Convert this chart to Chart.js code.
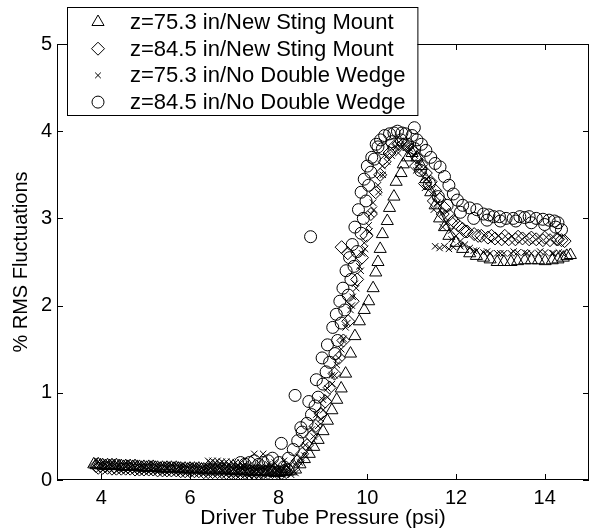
<!DOCTYPE html>
<html>
<head>
<meta charset="utf-8">
<script src="https://cdn.jsdelivr.net/npm/chart.js"></script>
<style>
  html, body { margin: 0; padding: 0; background: #fff; }
</style>
</head>
<body>
<canvas id="chart" width="612" height="531"></canvas>
<script>
// axis ticks
const xTicks = [4, 6, 8, 10, 12, 14];
const yTicks = [0, 1, 2, 3, 4, 5];

const seriesNames = [
  'z=75.3 in/New Sting Mount',
  'z=84.5 in/New Sting Mount',
  'z=75.3 in/No Double Wedge',
  'z=84.5 in/No Double Wedge'
];

// z=75.3 in / New Sting Mount (triangles)
const triX = [3.83, 3.93, 4.03, 4.14, 4.24, 4.34, 4.45, 4.55, 4.65, 4.76,
  4.86, 4.96, 5.07, 5.17, 5.27, 5.38, 5.48, 5.58, 5.69, 5.79,
  5.89, 6.0, 6.1, 6.2, 6.31, 6.41, 6.51, 6.62, 6.72, 6.82,
  6.93, 7.03, 7.14, 7.24, 7.34, 7.45, 7.55, 7.65, 7.76, 7.86,
  7.96, 8.07, 8.17,
  3.88, 3.98, 4.09, 4.19, 4.29, 4.4, 4.5, 4.6, 4.71, 4.81,
  4.91, 5.02, 5.12, 5.22, 5.33, 5.43, 5.53, 5.64, 5.74, 5.84,
  5.95, 6.05, 6.15, 6.26, 6.36, 6.46, 6.57, 6.67, 6.77, 6.88,
  6.98, 7.08, 7.19, 7.29, 7.39, 7.5, 7.6, 7.7, 7.81, 7.91,
  8.01, 8.12,
  8.27, 8.38, 8.48, 8.58, 8.69, 8.79, 8.89, 9.0, 9.1, 9.2,
  9.31, 9.41, 9.51, 9.62, 9.72, 9.82, 9.93, 10.03, 10.13,
  10.19, 10.24, 10.29, 10.34, 10.45, 10.5, 10.6, 10.65, 10.76, 10.81,
  10.91, 11.01, 11.12, 11.22,
  11.32, 11.43, 11.53, 11.63, 11.74, 11.84, 12.0, 12.15, 12.31, 12.46,
  12.62, 12.77, 12.93, 13.08, 13.24, 13.39, 13.55, 13.7, 13.86, 14.01,
  14.17, 14.3, 14.42, 14.5, 14.58];
const triY = [0.18, 0.18, 0.17, 0.17, 0.17, 0.17, 0.16, 0.16, 0.16, 0.16,
  0.15, 0.15, 0.15, 0.15, 0.14, 0.14, 0.14, 0.14, 0.14, 0.13,
  0.13, 0.13, 0.13, 0.13, 0.12, 0.12, 0.12, 0.12, 0.12, 0.12,
  0.11, 0.11, 0.11, 0.11, 0.10, 0.10, 0.10, 0.10, 0.10, 0.09,
  0.09, 0.10, 0.10,
  0.17, 0.17, 0.16, 0.16, 0.16, 0.16, 0.15, 0.15, 0.15, 0.15,
  0.14, 0.14, 0.14, 0.14, 0.13, 0.13, 0.13, 0.13, 0.13, 0.12,
  0.12, 0.12, 0.12, 0.12, 0.11, 0.11, 0.11, 0.11, 0.11, 0.11,
  0.10, 0.10, 0.10, 0.10, 0.09, 0.09, 0.09, 0.09, 0.09, 0.08,
  0.08, 0.09,
  0.10, 0.12, 0.18, 0.24, 0.30, 0.38, 0.46, 0.56, 0.68, 0.80,
  0.92, 1.05, 1.22, 1.45, 1.65, 1.82, 1.95, 2.05, 2.2,
  2.38, 2.5, 2.65, 2.82, 2.97, 3.12, 3.25, 3.42, 3.52, 3.62,
  3.7, 3.75, 3.7, 3.6,
  3.45, 3.3, 3.15, 3.0, 2.9, 2.8, 2.72, 2.65, 2.6, 2.57,
  2.55, 2.53, 2.5, 2.5, 2.5, 2.51, 2.52, 2.52, 2.52, 2.51,
  2.52, 2.53, 2.55, 2.57, 2.58];

// z=84.5 in / New Sting Mount (diamonds)
const diaX = [3.88, 3.98, 4.09, 4.19, 4.29, 4.4, 4.5, 4.6, 4.71, 4.81,
  4.91, 5.02, 5.12, 5.22, 5.33, 5.43, 5.53, 5.64, 5.74, 5.84,
  5.95, 6.05, 6.15, 6.26, 6.36, 6.46, 6.57, 6.67, 6.77, 6.88,
  6.98, 7.08, 7.19, 7.29, 7.39, 7.5, 7.6, 7.7, 7.81, 7.91,
  8.01, 8.12,
  3.93, 4.03, 4.14, 4.24, 4.34, 4.45, 4.55, 4.65, 4.76, 4.86,
  4.96, 5.07, 5.17, 5.27, 5.38, 5.48, 5.58, 5.69, 5.79, 5.89,
  6.0, 6.1, 6.2, 6.31, 6.41, 6.51, 6.62, 6.72, 6.82, 6.93,
  7.03, 7.14, 7.24, 7.34, 7.45, 7.55, 7.65, 7.76, 7.86, 7.96,
  8.07, 8.17,
  8.22, 8.33, 8.43, 8.53, 8.64, 8.74, 8.84, 8.95, 9.05, 9.15,
  9.26, 9.36, 9.46, 9.57, 9.67, 9.77, 9.88, 9.98, 10.08, 10.19,
  10.29, 10.39, 10.5, 10.6, 10.7, 10.81, 10.91,
  9.42, 9.56,
  11.01, 11.12, 11.22, 11.32, 11.43, 11.53, 11.63, 11.74, 11.84, 11.94,
  12.05, 12.15, 12.25, 12.41, 12.57, 12.72, 12.88, 13.03, 13.19, 13.34,
  13.5, 13.65, 13.81, 13.96, 14.12, 14.27, 14.38, 14.45,
  11.1, 11.3, 11.5, 11.7, 11.9, 12.2, 12.5, 12.8, 13.1, 13.4,
  13.7, 14.0, 14.3];
const diaY = [0.16, 0.16, 0.16, 0.16, 0.15, 0.15, 0.15, 0.15, 0.15, 0.14,
  0.14, 0.14, 0.14, 0.14, 0.13, 0.13, 0.13, 0.13, 0.13, 0.12,
  0.12, 0.12, 0.12, 0.12, 0.11, 0.11, 0.11, 0.11, 0.11, 0.10,
  0.10, 0.10, 0.10, 0.10, 0.09, 0.09, 0.09, 0.10, 0.11, 0.12,
  0.10, 0.11,
  0.14, 0.14, 0.14, 0.13, 0.13, 0.13, 0.13, 0.13, 0.12, 0.12,
  0.12, 0.12, 0.12, 0.11, 0.11, 0.11, 0.11, 0.11, 0.10, 0.10,
  0.10, 0.10, 0.10, 0.09, 0.09, 0.09, 0.09, 0.09, 0.08, 0.08,
  0.08, 0.08, 0.08, 0.07, 0.07, 0.07, 0.08, 0.08, 0.09, 0.09,
  0.08, 0.09,
  0.12, 0.16, 0.22, 0.3, 0.4, 0.5, 0.62, 0.76, 0.9, 1.06,
  1.22, 1.4, 1.6, 1.82, 2.05, 2.3, 2.55, 2.8, 3.05, 3.3,
  3.5, 3.65, 3.75, 3.82, 3.85, 3.85, 3.82,
  2.67, 2.6,
  3.78, 3.7, 3.62, 3.52, 3.42, 3.32, 3.22, 3.12, 3.04, 2.97,
  2.92, 2.88, 2.85, 2.82, 2.8, 2.78, 2.77, 2.76, 2.76, 2.76,
  2.77, 2.76, 2.76, 2.75, 2.75, 2.76, 2.75, 2.74,
  3.6, 3.4, 3.2, 3.05, 2.95, 2.85, 2.8, 2.8, 2.8, 2.79,
  2.78, 2.78, 2.76];

// z=75.3 in / No Double Wedge (crosses)
const crsX = [6.41, 6.51, 6.62, 6.72, 6.82, 6.93, 7.03, 7.14, 7.24, 7.34,
  7.45, 7.55, 7.65, 7.76, 7.86, 7.96, 8.07, 8.17, 8.28, 8.38,
  6.46, 6.57, 6.67, 6.77, 6.88, 6.98, 7.08, 7.19,
  7.29, 7.5, 7.7, 7.91, 8.12, 8.22,
  8.48, 8.58, 8.69, 8.79, 8.89, 8.95, 9.0, 9.1, 9.2, 9.26,
  9.31, 9.41, 9.46, 9.51, 9.62, 9.67, 9.72, 9.82, 9.88, 9.93,
  10.03, 10.08, 10.13, 10.24, 10.29, 10.34, 10.45, 10.55, 10.65, 10.76,
  10.86, 10.96, 11.07,
  11.17, 11.27, 11.38, 11.48, 11.58, 11.69, 11.79, 11.89, 12.0, 12.1,
  12.2, 12.31, 12.46, 12.62, 12.77, 12.93, 13.08, 13.24, 13.39, 13.55,
  13.7, 13.86, 14.01, 14.17, 14.32, 14.4,
  11.53, 11.63, 11.74, 11.84, 11.94,
  8.6, 8.75, 8.85, 9.0, 9.1, 9.2, 9.35, 9.45, 9.55, 9.65,
  9.75, 9.85, 9.95, 10.05, 10.15, 10.25, 10.35, 10.45, 10.55, 10.7,
  11.1, 11.3, 11.5, 11.7, 11.9, 12.1, 12.4, 12.7, 13.0, 13.3,
  13.6, 13.9, 14.2];
const crsY = [0.22, 0.22, 0.22, 0.21, 0.21, 0.21, 0.2, 0.2, 0.18, 0.17,
  0.3, 0.2, 0.3, 0.18, 0.15, 0.12, 0.1, 0.08, 0.06, 0.08,
  0.2, 0.2, 0.19, 0.19, 0.18, 0.18, 0.17, 0.16,
  0.12, 0.14, 0.12, 0.2, 0.22, 0.15,
  0.2, 0.28, 0.38, 0.5, 0.62, 0.7, 0.8, 0.95, 1.1, 1.2,
  1.32, 1.5, 1.62, 1.75, 1.95, 2.1, 2.25, 2.45, 2.6, 2.72,
  2.92, 3.05, 3.18, 3.38, 3.5, 3.6, 3.72, 3.8, 3.82, 3.85,
  3.83, 3.8, 3.72,
  3.62, 3.52, 3.42, 3.3, 3.18, 3.06, 2.95, 2.86, 2.8, 2.74,
  2.7, 2.66, 2.63, 2.61, 2.6, 2.6, 2.6, 2.6, 2.61, 2.61,
  2.6, 2.6, 2.61, 2.6, 2.61, 2.6,
  2.68, 2.66, 2.68, 2.65, 2.67,
  0.4, 0.58, 0.75, 0.92, 1.05, 1.2, 1.4, 1.6, 1.8, 2.0,
  2.2, 2.4, 2.65, 2.85, 3.1, 3.3, 3.5, 3.65, 3.72, 3.75,
  3.55, 3.35, 3.1, 2.9, 2.76, 2.68, 2.63, 2.62, 2.6, 2.62,
  2.6, 2.62, 2.6];

// z=84.5 in / No Double Wedge (circles)
const cirX = [7.14, 7.24, 7.34, 7.45, 7.55, 7.65, 7.76, 7.86, 8.06, 8.01,
  8.12, 8.22, 8.37, 8.33, 8.43, 8.53, 8.72, 8.64, 8.74, 8.82,
  8.89, 9.0, 9.07, 9.15, 9.27, 9.33, 9.41, 9.49, 9.57, 9.63,
  9.7, 9.77, 9.86, 9.91, 9.97, 10.03, 10.08, 10.16, 10.24, 10.3,
  10.39, 10.5, 10.6, 10.68, 10.78, 10.86, 11.06, 11.01, 11.12, 11.22,
  11.32, 11.43, 11.53, 11.64, 11.74, 11.84, 11.94, 12.03, 12.15, 12.31,
  12.47, 12.62, 12.74, 12.85, 12.98, 13.13, 13.29, 13.44, 13.55, 13.65,
  13.81, 13.96, 14.1, 14.22, 14.3, 14.38,
  10.34, 10.55, 10.76, 10.91, 11.07,
  8.5, 8.68, 8.85, 8.98, 9.1, 9.22, 9.3, 9.38, 9.45, 9.52,
  9.6, 9.66, 9.72, 9.8, 9.86, 9.93, 10.0, 10.1, 10.2,
  11.2, 11.4, 11.6, 11.8, 12.1, 12.4, 12.7, 13.0, 13.35, 13.7,
  14.0, 14.25];
const cirY = [0.2, 0.18, 0.2, 0.22, 0.18, 0.2, 0.22, 0.25, 0.42, 0.2,
  0.15, 0.25, 0.97, 0.35, 0.45, 0.55, 2.79, 0.65, 0.75, 0.85,
  0.95, 1.1, 1.24, 1.35, 1.45, 1.6, 1.8, 1.95, 2.12, 2.3,
  2.45, 2.62, 2.83, 3.0, 3.2, 3.38, 3.53, 3.68, 3.82, 3.9,
  3.95, 3.97, 3.98, 4.0, 3.98, 3.97, 4.04, 3.95, 3.9, 3.85,
  3.78, 3.7, 3.63, 3.59, 3.48, 3.38, 3.28, 3.21, 3.15, 3.12,
  3.1, 3.05, 3.04, 3.02, 3.02, 3.0, 3.0, 3.02, 3.01, 3.02,
  3.0, 2.99, 2.98, 2.97, 2.95, 2.87,
  3.8, 3.88, 3.9, 3.85, 3.8,
  0.6, 0.9, 1.15, 1.4, 1.55, 1.75, 1.9, 2.05, 2.2, 2.4,
  2.55, 2.7, 2.9, 3.1, 3.3, 3.45, 3.6, 3.7, 3.85,
  3.55, 3.4, 3.25, 3.15, 3.07, 3.0, 2.98, 2.97, 2.97, 2.95,
  2.93, 2.9];

const toPoints = (xs, ys) => xs.map((x, i) => ({ x: x, y: ys[i] }));

const markerStyles = [
  { pointStyle: 'triangle', radius: 7 },
  { pointStyle: 'rectRot', radius: 6.5 },
  { pointStyle: 'crossRot', radius: 4.5 },
  { pointStyle: 'circle', radius: 6 }
];

const FONT = 'Liberation Sans, Arial, Helvetica, sans-serif';

function makeSet(i, xs, ys) {
  return {
    label: seriesNames[i],
    data: toPoints(xs, ys),
    showLine: false,
    pointStyle: markerStyles[i].pointStyle,
    pointRadius: markerStyles[i].radius,
    pointHoverRadius: markerStyles[i].radius,
    pointBorderColor: '#000',
    pointBackgroundColor: 'rgba(0,0,0,0)',
    pointBorderWidth: 1
  };
}

// box, inward ticks and the legend, MATLAB style
const framePlugin = {
  id: 'frame',
  afterDatasetsDraw(chart) {
    const { ctx, chartArea: a, scales: { x, y } } = chart;
    ctx.save();
    ctx.strokeStyle = '#000';
    ctx.lineWidth = 1;
    ctx.strokeRect(a.left + 0.5, a.top + 0.5, a.right - a.left - 1, a.bottom - a.top - 1);

    const tl = 6;
    ctx.beginPath();
    xTicks.forEach(v => {
      const px = Math.round(x.getPixelForValue(v)) + 0.5;
      ctx.moveTo(px, a.bottom); ctx.lineTo(px, a.bottom - tl);
      ctx.moveTo(px, a.top); ctx.lineTo(px, a.top + tl);
    });
    yTicks.forEach(v => {
      const py = Math.round(y.getPixelForValue(v)) + 0.5;
      ctx.moveTo(a.left, py); ctx.lineTo(a.left + tl, py);
      ctx.moveTo(a.right, py); ctx.lineTo(a.right - tl, py);
    });
    ctx.stroke();

    // legend
    ctx.font = '22px ' + FONT;
    const lx = 67, ly = 7, rowH = 26.7, firstRow = 22;
    let textW = 0;
    seriesNames.forEach(n => { textW = Math.max(textW, ctx.measureText(n).width); });
    const textX = 130;
    const lw = textX + textW + 12 - lx;
    const lh = 108;
    ctx.fillStyle = '#fff';
    ctx.fillRect(lx, ly, lw, lh);
    ctx.strokeRect(lx + 0.5, ly + 0.5, lw, lh);
    ctx.textBaseline = 'middle';
    ctx.textAlign = 'left';
    seriesNames.forEach((n, i) => {
      const cy = firstRow + i * rowH;
      ctx.fillStyle = 'rgba(0,0,0,0)';
      Chart.helpers.drawPoint(ctx, {
        pointStyle: markerStyles[i].pointStyle,
        radius: i === 2 ? 4 : markerStyles[i].radius,
        borderWidth: 1,
        rotation: 0
      }, 98, cy);
      ctx.fillStyle = '#000';
      ctx.fillText(n, textX, cy + 1);
    });
    ctx.restore();
  }
};

new Chart(document.getElementById('chart'), {
  type: 'scatter',
  data: {
    datasets: [
      makeSet(0, triX, triY),
      makeSet(1, diaX, diaY),
      makeSet(2, crsX, crsY),
      makeSet(3, cirX, cirY)
    ]
  },
  options: {
    responsive: false,
    animation: false,
    devicePixelRatio: 1,
    layout: { padding: { left: 0, right: 23, top: 44, bottom: 0 } },
    plugins: {
      legend: { display: false },
      tooltip: { enabled: false }
    },
    scales: {
      x: {
        type: 'linear',
        min: 3,
        max: 15,
        afterBuildTicks: s => { s.ticks = xTicks.map(v => ({ value: v })); },
        afterFit: s => { s.height = 51; },
        grid: { display: false, drawTicks: false },
        border: { display: false },
        ticks: { color: '#000', font: { family: FONT, size: 20 }, padding: 6 },
        title: {
          display: true,
          text: 'Driver Tube Pressure (psi)',
          color: '#000',
          font: { family: FONT, size: 21 },
          padding: { top: 0, bottom: 0 }
        }
      },
      y: {
        type: 'linear',
        min: 0,
        max: 5,
        afterBuildTicks: s => { s.ticks = yTicks.map(v => ({ value: v })); },
        afterFit: s => { s.width = 57; },
        grid: { display: false, drawTicks: false },
        border: { display: false },
        ticks: { color: '#000', font: { family: FONT, size: 20 }, padding: 5 },
        title: {
          display: true,
          text: '% RMS Fluctuations',
          color: '#000',
          font: { family: FONT, size: 20 },
          padding: { top: 9, bottom: 0 }
        }
      }
    }
  },
  plugins: [framePlugin]
});
</script>
</body>
</html>
